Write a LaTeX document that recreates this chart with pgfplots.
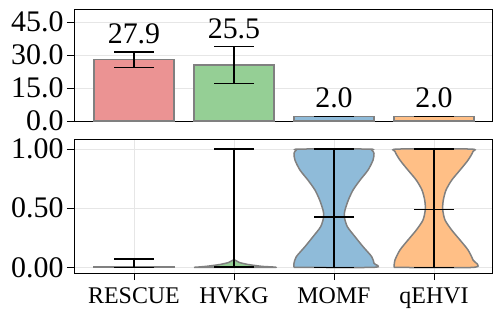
\documentclass[border=0pt]{standalone}
\usepackage{pgfplots}
\pgfplotsset{compat=1.18}
\usepackage{pgfplotstable}
\usepackage{fontspec}
\setmainfont{Liberation Serif}
\definecolor{cred}{HTML}{EB9393}
\definecolor{cgreen}{HTML}{95CF95}
\definecolor{cblue}{HTML}{8FBBD9}
\definecolor{corange}{HTML}{FFBF86}
\definecolor{edge}{HTML}{808080}
\definecolor{gridc}{HTML}{E6E6E6}

\pgfplotstableread{
x y lab
0 31.5 27.9
1 33.8 25.5
2 2.0 2.0
3 2.0 2.0
}\barlabels

\pgfplotstableread{
x y ep em
0 0.0 0.07 0.0
1 0.005 0.995 0.005
2 0.428 0.572 0.428
3 0.49 0.51 0.49
}\whisk

\pgfplotsset{
  common/.style={
    scale only axis, width=418bp,
    xmin=-0.6, xmax=3.58,
    xtick={0,1,2,3},
    xtick pos=bottom, ytick pos=left,
    tick align=outside, major tick length=7bp,
    tick style={black, line width=0.8bp},
    axis line style={line width=0.9bp},
    grid style={gridc, line width=0.8bp},
    tick label style={font=\fontsize{30}{34}\selectfont},
    yticklabel style={/pgf/number format/assume math mode=true},
  },
  errb/.style={error bars/.cd, y dir=both, y explicit, error mark=|,
    error bar style={black, line width=1.6bp},
    error mark options={black, mark size=20bp, line width=1.6bp}},
}

\begin{document}
\begin{tikzpicture}
\path[use as bounding box] (0,0) rectangle (498bp,-313bp);
\begin{axis}[common,
  at={(74bp,-9bp)}, anchor=north west, height=112bp,
  ymin=0, ymax=51,
  xticklabels={}, major x tick style={draw=none},
  ytick={0,15,30,45},
  yticklabel style={/pgf/number format/.cd, fixed, fixed zerofill, precision=1},
  ymajorgrids,
]
\addplot[ybar, bar shift=0pt, bar width=0.8, fill=cred, draw=edge, line width=1.5bp, errb]
  coordinates {(0,27.9) +- (0,3.6)};
\addplot[ybar, bar shift=0pt, bar width=0.8, fill=cgreen, draw=edge, line width=1.5bp, errb]
  coordinates {(1,25.5) +- (0,8.4)};
\addplot[ybar, bar shift=0pt, bar width=0.8, fill=cblue, draw=edge, line width=1.5bp, errb]
  coordinates {(2,2.0) +- (0,0.0)};
\addplot[ybar, bar shift=0pt, bar width=0.8, fill=corange, draw=edge, line width=1.5bp, errb]
  coordinates {(3,2.0) +- (0,0.0)};
\addplot[draw=none, mark=none, nodes near coords, point meta=explicit symbolic,
  nodes near coords style={anchor=south, inner sep=0pt, yshift=8bp, font=\fontsize{30}{34}\selectfont}]
  table[x=x, y=y, meta=lab] {\barlabels};
\end{axis}

\begin{axis}[common,
  at={(74bp,-139bp)}, anchor=north west, height=134bp,
  ymin=-0.048, ymax=1.085,
  xticklabels={RESCUE,HVKG,MOMF,qEHVI},
  xticklabel style={font=\fontsize{24}{29}\selectfont, yshift=-4bp},
  ytick={0,0.5,1},
  yticklabel style={/pgf/number format/.cd, fixed, fixed zerofill, precision=2},
  xmajorgrids, ymajorgrids,
]
% RESCUE violin (flat)
\addplot[draw=edge, line width=1.5bp, fill=cred] coordinates {(-0.4,0) (0.4,0) (0.4,0.002) (-0.4,0.002) (-0.4,0)};
% HVKG violin
\addplot[draw=edge, line width=1.5bp, fill=cgreen, smooth, tension=0.4] coordinates {
(0.60,0.0) (0.72,0.008) (0.86,0.024) (0.95,0.042) (1.0,0.065) (1.05,0.042) (1.14,0.024) (1.28,0.008) (1.40,0.0) (0.60,0.0)};
% MOMF violin
\addplot[draw=edge, line width=1.5bp, fill=cblue, smooth, tension=0.45] coordinates {
(1.60,0.0) (1.60,0.034) (1.623,0.09) (1.71,0.175) (1.79,0.259) (1.867,0.344) (1.897,0.428) (1.89,0.484) (1.857,0.568) (1.81,0.653) (1.74,0.737) (1.66,0.822) (1.61,0.906) (1.60,0.963) (1.62,0.99) (1.66,1.0)
(2.34,1.0) (2.38,0.99) (2.40,0.963) (2.39,0.906) (2.34,0.822) (2.26,0.737) (2.19,0.653) (2.143,0.568) (2.11,0.484) (2.103,0.428) (2.133,0.344) (2.21,0.259) (2.29,0.175) (2.377,0.09) (2.40,0.034) (2.40,0.0) (1.60,0.0)};
% qEHVI violin
\addplot[draw=edge, line width=1.5bp, fill=corange, smooth, tension=0.45] coordinates {
(2.60,0.0) (2.61,0.062) (2.66,0.147) (2.74,0.231) (2.823,0.315) (2.89,0.40) (2.913,0.49) (2.907,0.568) (2.88,0.653) (2.823,0.737) (2.74,0.822) (2.66,0.906) (2.61,0.98) (2.64,1.0)
(3.36,1.0) (3.39,0.98) (3.34,0.906) (3.26,0.822) (3.177,0.737) (3.12,0.653) (3.093,0.568) (3.087,0.49) (3.11,0.40) (3.177,0.315) (3.26,0.231) (3.34,0.147) (3.39,0.062) (3.40,0.0) (2.60,0.0)};
% whiskers with min/max caps
\addplot[only marks, mark=-, mark size=20bp, mark options={black, line width=1.6bp}, errb]
  table[x=x, y=y, y error plus=ep, y error minus=em] {\whisk};
\end{axis}
\end{tikzpicture}
\end{document}
